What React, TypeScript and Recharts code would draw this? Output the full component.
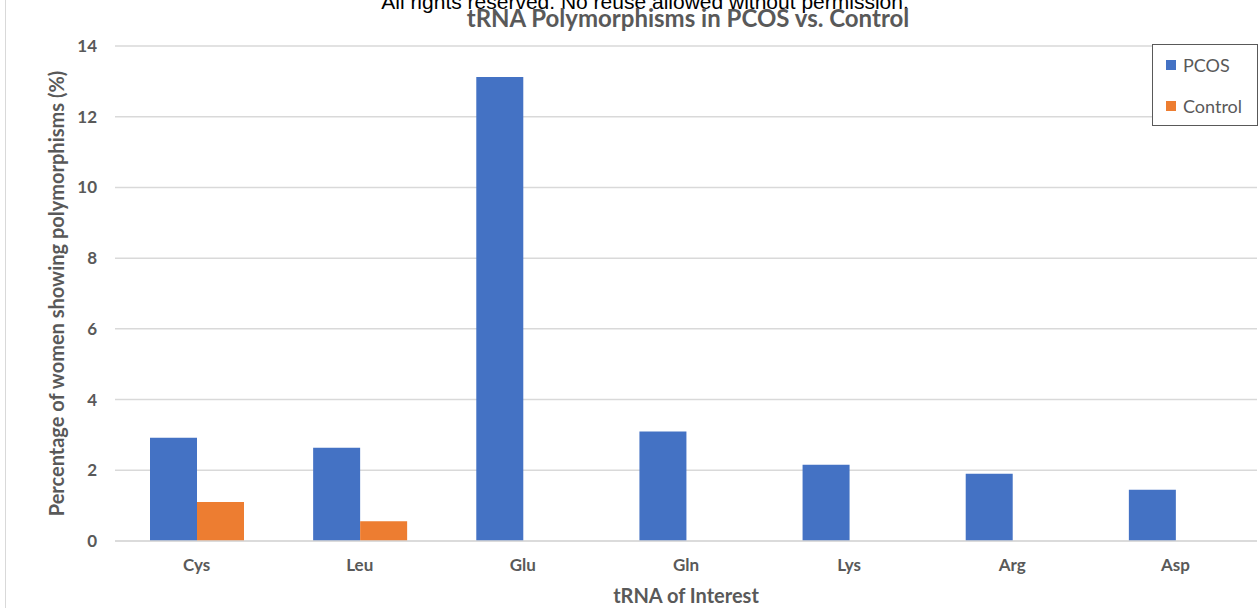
import React from "react";
import { BarChart, Bar, XAxis, YAxis, CartesianGrid } from "recharts";

const trnas = ["Cys", "Leu", "Glu", "Gln", "Lys", "Arg", "Asp"];
const pcos = [2.92, 2.64, 13.12, 3.1, 2.16, 1.9, 1.45];
const control = [1.1, 0.56, 0, 0, 0, 0, 0];
const yTicks = [0, 2, 4, 6, 8, 10, 12, 14];

const BLUE = "#4472C4";
const ORANGE = "#ED7D31";
const TEXT = "#595959";
const GRID = "#d9d9d9";
const FONT = "Lato, 'Open Sans', sans-serif";

const data = trnas.map((name, i) => ({ name, PCOS: pcos[i], Control: control[i] }));

const legendItems = [
  { label: "PCOS", color: BLUE },
  { label: "Control", color: ORANGE },
];

// boxed legend sitting over the top-right corner of the plot
const LegendBox = () => (
  <div
    style={{
      position: "absolute",
      left: 1152,
      top: 44,
      width: 104,
      height: 80,
      border: "1px solid #595959",
      background: "#fff",
      fontFamily: FONT,
      fontSize: 18,
      color: TEXT,
    }}
  >
    {legendItems.map((e, i) => (
      <div
        key={e.label}
        style={{ position: "absolute", left: 13, top: 9 + i * 41, display: "flex", alignItems: "center" }}
      >
        <span style={{ width: 10, height: 10, background: e.color, display: "inline-block", marginRight: 7 }} />
        <span>{e.label}</span>
      </div>
    ))}
  </div>
);

export default function App() {
  return (
    <div style={{ position: "absolute", left: 0, top: 0, width: 1260, height: 608, background: "#fff", overflow: "hidden" }}>
      {/* chart frame edge */}
      <div style={{ position: "absolute", left: 5, top: 0, width: 1, height: 608, background: GRID }} />
      <BarChart
        width={1260}
        height={608}
        data={data}
        margin={{ top: 46, right: 3, bottom: 0, left: 0 }}
        barGap={0}
        style={{ position: "absolute", left: 0, top: 0 }}
      >
        <CartesianGrid vertical={false} stroke={GRID} strokeWidth={1.5} />
        <XAxis
          dataKey="name"
          height={67}
          axisLine={{ stroke: GRID, strokeWidth: 1.5 }}
          tickLine={false}
          tickSize={0}
          tickMargin={18}
          tick={{ fill: TEXT, fontSize: 17, fontWeight: 700, fontFamily: FONT }}
          label={{
            value: "tRNA of Interest",
            position: "insideBottom",
            offset: 5,
            style: { fill: TEXT, fontSize: 20, fontWeight: 700, fontFamily: FONT },
          }}
        />
        <YAxis
          width={115}
          domain={[0, 14]}
          ticks={yTicks}
          axisLine={false}
          tickLine={false}
          tickSize={0}
          tickMargin={18}
          tick={{ fill: TEXT, fontSize: 17, fontWeight: 700, fontFamily: FONT }}
          label={{
            value: "Percentage of women showing polymorphisms (%)",
            angle: -90,
            position: "insideLeft",
            offset: 57,
            style: { textAnchor: "middle", fill: TEXT, fontSize: 20, fontWeight: 700, fontFamily: FONT },
          }}
        />
        <Bar dataKey="PCOS" fill={BLUE} barSize={47} isAnimationActive={false} />
        <Bar dataKey="Control" fill={ORANGE} barSize={47} isAnimationActive={false} />
      </BarChart>
      <LegendBox />
      <div
        style={{
          position: "absolute",
          left: 0,
          width: 1290,
          top: -10,
          textAlign: "center",
          fontFamily: "'Liberation Sans', Arial, sans-serif",
          fontSize: 21,
          color: "#000",
          whiteSpace: "nowrap",
        }}
      >
        All rights reserved. No reuse allowed without permission.
      </div>
      <div
        style={{
          position: "absolute",
          left: 0,
          width: 1376,
          top: 3,
          textAlign: "center",
          fontFamily: FONT,
          fontWeight: 700,
          fontSize: 24,
          color: TEXT,
          whiteSpace: "nowrap",
        }}
      >
        tRNA Polymorphisms in PCOS vs. Control
      </div>
    </div>
  );
}
